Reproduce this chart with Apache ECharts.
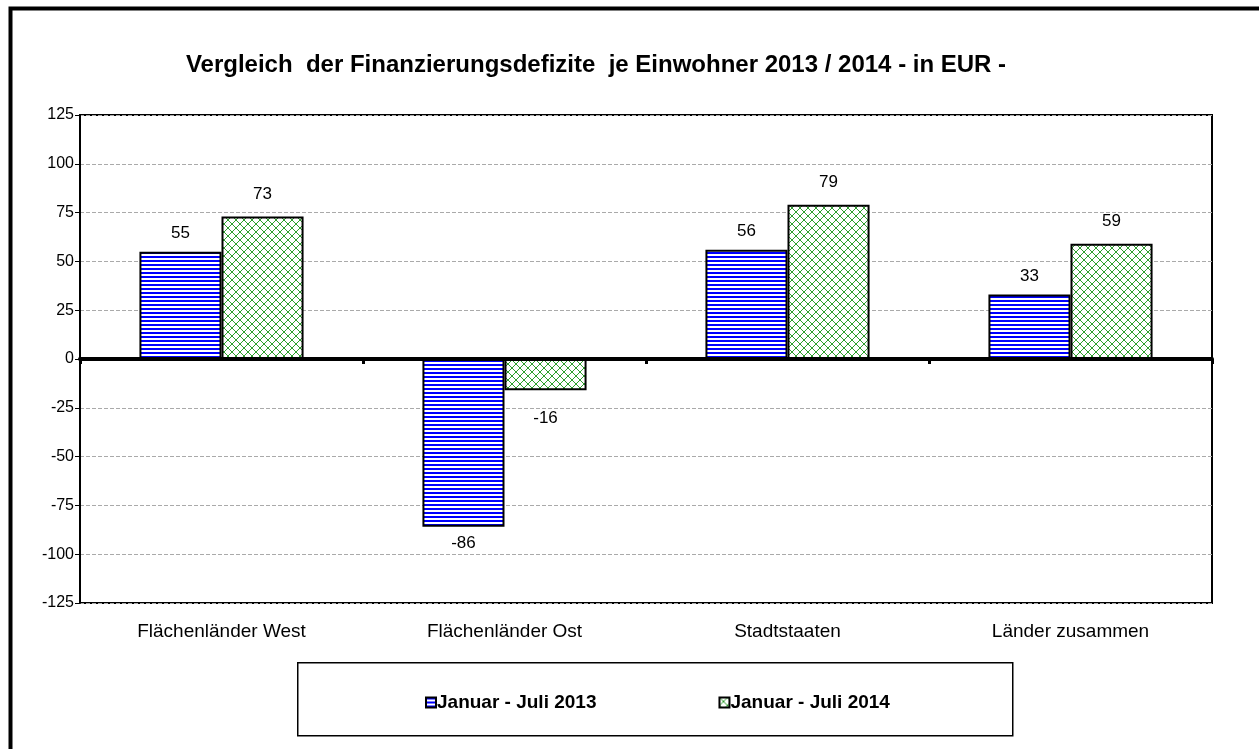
<!DOCTYPE html>
<html>
<head>
<meta charset="utf-8">
<script src="https://cdn.jsdelivr.net/npm/echarts@6/dist/echarts.min.js"></script>
<style>
  html, body { margin: 0; padding: 0; background: #fff; }
  #chart { width: 1259px; height: 749px; }
</style>
</head>
<body>
<div id="chart"></div>
<script>
const categories = ['Flächenländer West', 'Flächenländer Ost', 'Stadtstaaten', 'Länder zusammen'];
const seriesNames = ['Januar - Juli 2013', 'Januar - Juli 2014'];
const values2013 = [55, -86, 56, 33];
const values2014 = [73, -16, 79, 59];
const yTicks = [-125, -100, -75, -50, -25, 0, 25, 50, 75, 100, 125];

const FONT = '"Liberation Sans", Arial, sans-serif';

// blaue waagerechte Streifen
function stripePattern() {
    let c = document.createElement('canvas');
    c.width = 4; c.height = 4;
    let ctx = c.getContext('2d');
    ctx.fillStyle = '#ffffff';
    ctx.fillRect(0, 0, 4, 4);
    ctx.fillStyle = '#0000ff';
    ctx.fillRect(0, 0, 4, 2);
    return c;
}

// grüne Kreuzschraffur
function hatchPattern() {
    let c = document.createElement('canvas');
    c.width = 8; c.height = 8;
    let ctx = c.getContext('2d');
    ctx.fillStyle = '#ffffff';
    ctx.fillRect(0, 0, 8, 8);
    ctx.strokeStyle = '#2e9e2e';
    ctx.lineWidth = 1;
    ctx.beginPath();
    ctx.moveTo(0, 0); ctx.lineTo(8, 8);
    ctx.moveTo(8, 0); ctx.lineTo(0, 8);
    ctx.stroke();
    return c;
}

function labelData(values) {
    return values.map(v => {
        if (v >= 0) return v;
        return {value: v, label: {position: 'bottom', distance: v < -50 ? 8 : 20}};
    });
}

let myChart = echarts.init(document.getElementById('chart'), null, {renderer: 'canvas'});

let option = {
    backgroundColor: '#fff',
    animation: false,
    title: {
        text: 'Vergleich  der Finanzierungsdefizite  je Einwohner 2013 / 2014 - in EUR -',
        left: 591,
        textAlign: 'center',
        top: 48,
        textStyle: {fontFamily: FONT, fontSize: 24, fontWeight: 'bold', color: '#000'}
    },
    graphic: [
        {
            type: 'rect', left: 8, top: 6, z: 0,
            shape: {width: 1300, height: 800},
            style: {fill: 'none', stroke: '#000', lineWidth: 4}
        },
        {
            type: 'rect', left: 297, top: 662, z: 0,
            shape: {width: 715, height: 73},
            style: {fill: '#fff', stroke: '#000', lineWidth: 1.5}
        }
    ],
    legend: {
        data: seriesNames,
        left: 420,
        top: 688,
        itemGap: 122,
        itemWidth: 10,
        itemHeight: 10,
        icon: 'rect',
        textStyle: {fontFamily: FONT, fontSize: 19, fontWeight: 'bold', color: '#000', padding: [0, 0, 0, -4]}
    },
    grid: {
        left: 80, right: 47, top: 115, bottom: 146,
        show: true, borderColor: '#000', borderWidth: 2
    },
    xAxis: {
        type: 'category',
        data: categories,
        axisLine: {onZero: true, lineStyle: {color: '#000', width: 4}},
        axisTick: {show: true, length: 5, lineStyle: {color: '#000', width: 3}},
        axisLabel: {fontFamily: FONT, fontSize: 19, color: '#000', margin: 19}
    },
    yAxis: {
        type: 'value',
        min: yTicks[0],
        max: yTicks[yTicks.length - 1],
        interval: 25,
        axisLine: {show: true, lineStyle: {color: '#000', width: 2}},
        axisTick: {show: true, length: 5, lineStyle: {color: '#000'}},
        axisLabel: {fontFamily: FONT, fontSize: 16, color: '#000', margin: 6},
        splitLine: {show: true, lineStyle: {color: '#aaa', type: 'dashed', width: 1}}
    },
    series: [
        {
            name: seriesNames[0],
            type: 'bar',
            data: labelData(values2013),
            barGap: '0%',
            barCategoryGap: '42%',
            itemStyle: {color: {image: stripePattern(), repeat: 'repeat'}, borderColor: '#000', borderWidth: 2},
            label: {show: true, position: 'top', distance: 10, fontFamily: FONT, fontSize: 17, color: '#000'}
        },
        {
            name: seriesNames[1],
            type: 'bar',
            data: labelData(values2014),
            itemStyle: {color: {image: hatchPattern(), repeat: 'repeat'}, borderColor: '#000', borderWidth: 2},
            label: {show: true, position: 'top', distance: 14, fontFamily: FONT, fontSize: 17, color: '#000'}
        }
    ]
};

myChart.setOption(option);
</script>
</body>
</html>
